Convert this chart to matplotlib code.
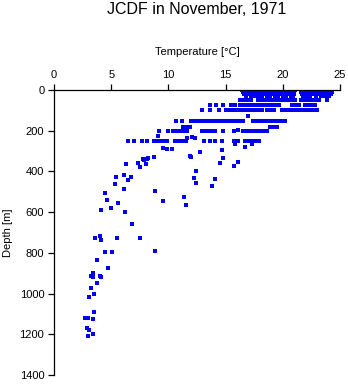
import numpy as np
import matplotlib
matplotlib.use('Agg')
import matplotlib.pyplot as plt

plt.rcParams['font.family'] = ['Liberation Sans', 'DejaVu Sans']

# temperatures [degC] measured at the standard depths [m]
row_depths = [0, 10, 20, 30, 50, 75, 100, 150, 180, 200, 250]
t_0m = [16.4, 16.6, 16.9, 17.1, 17.4, 17.6, 17.9, 18.1, 18.4, 18.6, 18.8, 19.1, 19.3, 19.6,
        19.8, 20.1, 20.3, 20.6, 20.8, 21.1, 21.7, 21.9, 22.2, 22.4, 22.7, 22.9, 23.2, 23.4,
        23.7, 23.9, 24.2]
t_10m = [16.5, 16.7, 17.0, 17.2, 17.5, 17.7, 18.0, 18.2, 18.5, 18.7, 19.0, 19.2, 19.5, 19.7,
         20.0, 20.2, 20.5, 20.7, 21.0, 21.6, 21.8, 22.1, 22.3, 22.6, 22.8, 23.1, 23.3, 23.6,
         23.8, 24.1, 24.3]
t_20m = [16.6, 16.9, 17.1, 17.4, 17.8, 18.0, 18.3, 18.6, 18.9, 19.1, 19.4, 19.7, 19.9, 20.2,
         20.4, 20.7, 21.0, 21.7, 22.0, 22.3, 22.5, 22.8, 23.0, 23.5, 23.8, 24.0, 24.2]
t_30m = [16.8, 17.2, 17.6, 17.9, 18.2, 18.6, 18.9, 19.3, 19.6, 20.0, 20.3, 20.7, 20.9, 21.8,
         22.1, 22.4, 22.9, 23.3, 23.7, 24.0]
t_50m = [16.3, 16.6, 16.9, 17.2, 17.8, 18.0, 18.3, 18.5, 18.8, 19.0, 19.3, 19.5, 19.8, 20.0,
         20.3, 20.5, 20.8, 21.1, 21.6, 21.9, 22.1, 22.4, 22.6, 22.9, 23.2, 23.9]
t_75m = [13.6, 14.2, 14.8, 15.5, 15.8, 16.3, 16.6, 16.9, 17.2, 17.6, 17.9, 18.2, 18.5, 18.8,
         19.1, 19.4, 19.7, 20.8, 21.1, 21.4, 21.9, 22.2, 22.5, 22.8]
t_100m = [12.9, 13.6, 14.4, 15.0, 15.3, 15.6, 15.9, 16.2, 16.5, 16.8, 17.1, 17.3, 17.6, 17.9,
          18.2, 18.6, 18.9, 19.2, 19.9, 20.2, 20.5, 20.9, 21.2, 21.6, 21.9, 22.3, 22.6, 23.0]
t_150m = [10.7, 11.2, 12.0, 12.3, 12.6, 12.9, 13.2, 13.5, 13.8, 14.1, 14.4, 14.7, 15.0, 15.4,
          15.6, 15.9, 16.2, 16.5, 17.4, 17.7, 18.0, 18.3, 18.6, 18.9, 19.2, 19.5, 19.8, 20.2]
t_180m = [11.3, 11.6, 11.9, 18.9, 19.2, 19.5]
t_200m = [9.2, 10.0, 10.4, 10.7, 11.0, 11.3, 11.6, 12.9, 13.2, 13.5, 13.8, 14.1, 14.8, 15.7,
          16.5, 16.8, 17.1, 17.4, 17.7, 18.0, 18.3, 18.6]
t_250m = [6.5, 7.0, 7.7, 8.1, 8.7, 9.0, 9.3, 9.6, 9.9, 10.6, 10.9, 11.2, 11.5, 13.1, 13.6,
          14.1, 14.7, 15.7, 16.1, 16.7, 17.0, 17.3, 17.6, 17.9]
row_temps = [t_0m, t_10m, t_20m, t_30m, t_50m, t_75m, t_100m, t_150m, t_180m, t_200m, t_250m]

# remaining casts at other depths
extra_temp = [17.0, 16.1, 9.1, 11.6, 12.1, 12.3, 15.8, 16.7, 17.3, 9.5, 9.9, 10.3, 12.8, 14.7,
              11.9, 14.8, 7.8, 8.1, 8.7, 12.0, 6.3, 7.3, 7.9, 8.2, 7.5, 8.0, 14.5, 16.1, 15.7,
              12.4, 12.2, 12.4, 14.1, 13.8, 5.4, 6.1, 6.7, 6.5, 5.3, 6.1, 8.8, 4.5, 4.6, 5.6,
              5.0, 4.1, 6.2, 9.5, 11.4, 11.5, 6.8, 3.6, 4.0, 4.1, 5.5, 7.5, 8.8, 4.5, 5.1, 3.8,
              4.7, 3.4, 3.2, 3.4, 4.0, 4.1, 3.8, 3.2, 3.5, 3.1, 3.5, 2.7, 3.0, 3.4, 2.9, 3.1,
              3.4, 3.0]
extra_depth = [130, 195, 226, 234, 229, 234, 265, 280, 265, 287, 290, 290, 303, 295,
               322, 332, 338, 338, 327, 327, 365, 360, 342, 336, 380, 365, 360, 352, 373,
               396, 434, 457, 439, 470, 429, 419, 427, 444, 463, 488, 496, 508, 540, 553,
               578, 589, 601, 545, 527, 565, 658, 727, 717, 738, 728, 728, 789, 797, 797, 837,
               876, 900, 915, 920, 913, 920, 950, 971, 1002, 1018, 1092, 1121, 1121, 1123, 1171, 1179,
               1200, 1210]

temp = list(extra_temp)
depth = list(extra_depth)
for d, ts in zip(row_depths, row_temps):
    temp += ts
    depth += [d] * len(ts)

fig = plt.figure(figsize=(3.48, 3.84), dpi=100)
ax = fig.add_axes([54/348, 9/384, 286/348, 285/384])

ax.plot(temp, depth, 's', color='#0000f0', markersize=2.2, markeredgewidth=0,
        antialiased=False)

ax.set_xlim(0, 25)
ax.set_ylim(1400, 0)
ax.set_xticks([0, 5, 10, 15, 20, 25])
ax.set_yticks(np.arange(0, 1401, 200))
ax.xaxis.tick_top()
ax.tick_params(direction='out', length=4, width=0.9, labelsize=8, pad=3)
for s in ['right', 'bottom']:
    ax.spines[s].set_visible(False)
for s in ['left', 'top']:
    ax.spines[s].set_linewidth(0.9)

ax.set_xlabel('Temperature [°C]', fontsize=8)
ax.xaxis.set_label_position('top')
ax.xaxis.label.set_va('center')
ax.xaxis.set_label_coords(0.503, 1.133)
ax.set_ylabel('Depth [m]', fontsize=8)
ax.yaxis.label.set_va('center')
ax.yaxis.set_label_coords(-0.161, 0.5)

fig.text(197/348, 1 - 10/384, 'JCDF in November, 1971', ha='center', va='center', fontsize=11.5)

fig.savefig('out.png', dpi=100)
